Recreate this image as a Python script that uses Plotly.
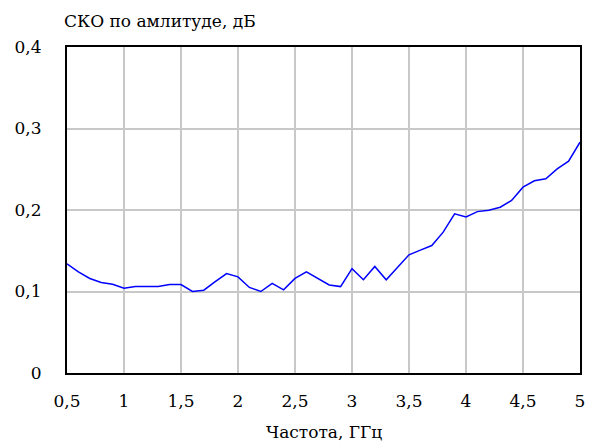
import plotly.graph_objects as go

freq = [0.5, 0.6, 0.7, 0.8, 0.9, 1.0, 1.1, 1.2, 1.3, 1.4, 1.5, 1.6, 1.7, 1.8, 1.9,
        2.0, 2.1, 2.2, 2.3, 2.4, 2.5, 2.6, 2.7, 2.8, 2.9, 3.0, 3.1, 3.2, 3.3, 3.4,
        3.5, 3.6, 3.7, 3.8, 3.9, 4.0, 4.1, 4.2, 4.3, 4.4, 4.5, 4.6, 4.7, 4.8, 4.9, 5.0]
sko = [0.134, 0.124, 0.116, 0.111, 0.109, 0.104, 0.106, 0.106, 0.106, 0.1086, 0.1086,
       0.100, 0.1016, 0.112, 0.122, 0.118, 0.105, 0.100, 0.110, 0.102, 0.116, 0.124,
       0.116, 0.108, 0.106, 0.128, 0.1144, 0.1307, 0.1144, 0.130, 0.145, 0.1507,
       0.1564, 0.1728, 0.1953, 0.1916, 0.198, 0.1998, 0.2034, 0.2117, 0.228, 0.2358,
       0.2383, 0.2505, 0.2599, 0.2832]

x_ticks = [0.5, 1, 1.5, 2, 2.5, 3, 3.5, 4, 4.5, 5]
x_labels = ["0,5", "1", "1,5", "2", "2,5", "3", "3,5", "4", "4,5", "5"]
y_ticks = [0, 0.1, 0.2, 0.3, 0.4]
y_labels = ["0", "0,1", "0,2", "0,3", "0,4"]

font = dict(family="DejaVu Serif", size=17, color="black")

fig = go.Figure(go.Scatter(x=freq, y=sko, mode="lines",
                           line=dict(color="#0000ff", width=1.5)))

fig.update_layout(
    width=600, height=445,
    margin=dict(l=67, r=20, t=47, b=72),
    paper_bgcolor="white", plot_bgcolor="white",
    showlegend=False,
    font=font,
    xaxis=dict(range=[0.5, 5], tickvals=x_ticks, ticktext=x_labels,
               showgrid=True, gridcolor="#c8c8c8", gridwidth=1.5,
               showline=True, linecolor="black", linewidth=2, mirror=True,
               ticks="outside", ticklen=12, tickcolor="rgba(0,0,0,0)",
               zeroline=False),
    yaxis=dict(range=[0, 0.4], tickvals=y_ticks, ticktext=y_labels,
               showgrid=True, gridcolor="#c8c8c8", gridwidth=1.5,
               showline=True, linecolor="black", linewidth=2, mirror=True,
               ticks="outside", ticklen=20, tickcolor="rgba(0,0,0,0)",
               zeroline=False),
    annotations=[
        dict(text="СКО по амлитуде, дБ", xref="paper", yref="paper",
             x=-0.01, y=1, xanchor="left", yanchor="bottom", yshift=14,
             showarrow=False, font=font),
        dict(text="Частота, ГГц", xref="paper", yref="paper",
             x=0.5, y=0, xanchor="center", yanchor="middle", yshift=-59,
             showarrow=False, font=font),
    ],
)

fig.write_html("out.html", config={"displayModeBar": False},
               post_script="document.body.style.margin='0';")
